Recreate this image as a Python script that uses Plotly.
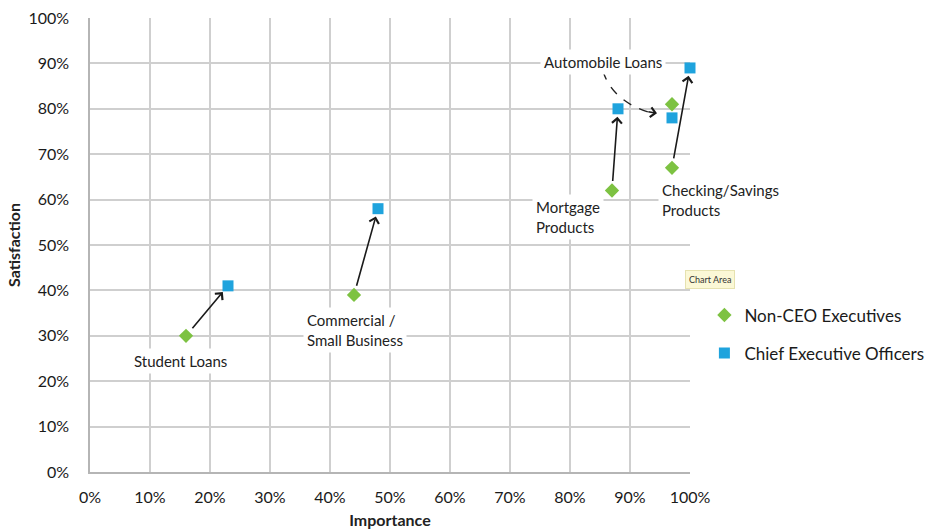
import plotly.graph_objects as go

categories = ["Student Loans", "Commercial / Small Business", "Mortgage Products",
              "Automobile Loans", "Checking/Savings Products"]
noceo_importance = [0.16, 0.44, 0.87, 0.97, 0.97]
noceo_satisfaction = [0.30, 0.39, 0.62, 0.81, 0.67]
ceo_importance = [0.23, 0.48, 0.88, 0.97, 1.00]
ceo_satisfaction = [0.41, 0.58, 0.80, 0.78, 0.89]

label_text = ["Student Loans", "Commercial /<br>Small Business", "Mortgage<br>Products",
              "Automobile Loans", "Checking/Savings<br>Products"]
label_x = [0.15, 0.355, 0.736, 0.855, 0.946]
label_y = [0.245, 0.312, 0.562, 0.903, 0.60]
label_anchor = ["center", "left", "left", "center", "left"]

tick_vals = [i / 10 for i in range(11)]
tick_text = [f"{i*10}%" for i in range(11)]

GREEN = "#7dc242"
BLUE = "#1fa3dd"
FONT = "Lato"

fig = go.Figure()
fig.add_trace(go.Scatter(
    x=noceo_importance, y=noceo_satisfaction, mode="markers", name="Non-CEO Executives",
    marker=dict(symbol="diamond", size=11, color=GREEN), legendgroup="a", cliponaxis=False))
fig.add_trace(go.Scatter(
    x=ceo_importance, y=ceo_satisfaction, mode="markers", name="Chief Executive Officers",
    marker=dict(symbol="square", size=11, color=BLUE), legendgroup="b", cliponaxis=False))

annotations = []
# arrows from non-CEO to CEO (automobile loans uses a dashed pointer instead)
for i, cat in enumerate(categories):
    if cat == "Automobile Loans":
        continue
    annotations.append(dict(
        x=ceo_importance[i], y=ceo_satisfaction[i], xref="x", yref="y",
        ax=noceo_importance[i], ay=noceo_satisfaction[i], axref="x", ayref="y",
        text="", showarrow=True, arrowhead=4, arrowsize=1.2, arrowwidth=1.6,
        arrowcolor="#1a1a1a", standoff=8, startstandoff=8))

# dashed curved pointer for Automobile Loans (drawn before labels so label covers its start)
ai = categories.index("Automobile Loans")
sx, sy = label_x[ai], label_y[ai] - 0.02
ex, ey = ceo_importance[ai] - 0.04, ceo_satisfaction[ai] + 0.013
cx, cy = sx + 0.015, ey + 0.026
fig.add_shape(type="path", xref="x", yref="y",
              path=f"M {sx},{sy} Q {cx},{cy} {ex},{ey}",
              line=dict(color="#222", width=1.4, dash="dash"))
annotations.append(dict(
    x=ex + 0.015, y=ey - 0.003, xref="x", yref="y",
    ax=ex - 0.002, ay=ey + 0.001, axref="x", ayref="y",
    text="", showarrow=True, arrowhead=4, arrowsize=1.2, arrowwidth=1.6, arrowcolor="#1a1a1a"))

for i, t in enumerate(label_text):
    annotations.append(dict(
        x=label_x[i], y=label_y[i], xref="x", yref="y", text=t, showarrow=False,
        xanchor=label_anchor[i], yanchor="middle", align="left",
        font=dict(family=FONT, size=15, color="#222"), bgcolor="white", borderpad=3))

# "Chart Area" tooltip
annotations.append(dict(
    x=0.992, y=0.424, xref="paper", yref="paper", text="Chart Area", showarrow=False,
    xanchor="left", yanchor="middle", font=dict(family=FONT, size=9, color="#333"),
    bgcolor="#fbf8d6", bordercolor="#e6e2b0", borderwidth=1, borderpad=3))

fig.update_layout(
    width=941, height=529,
    margin=dict(l=90, r=251, t=18, b=57, autoexpand=False),
    paper_bgcolor="white", plot_bgcolor="white",
    font=dict(family=FONT, size=15, color="#222"),
    showlegend=True,
    legend=dict(x=1.024, y=0.303, xanchor="left", yanchor="middle",
                font=dict(family=FONT, size=17, color="#1a1a1a"),
                tracegroupgap=13, traceorder="grouped", bgcolor="rgba(0,0,0,0)"),
    annotations=annotations,
)
fig.update_xaxes(range=[0, 1], tickvals=tick_vals, ticktext=tick_text,
                 showgrid=True, gridcolor="#cfcfcf", gridwidth=1.5,
                 showline=True, linecolor="#b5b5b5", linewidth=1.5,
                 zeroline=False, ticks="", ticklabelstandoff=10, automargin=False,
                 title=dict(text="<b>Importance</b>", font=dict(family=FONT, size=16), standoff=10),
                 tickfont=dict(family=FONT, size=16, color="#1a1a1a"), fixedrange=True)
fig.update_yaxes(range=[0, 1], tickvals=tick_vals, ticktext=tick_text,
                 showgrid=True, gridcolor="#cfcfcf", gridwidth=1.5,
                 showline=True, linecolor="#b5b5b5", linewidth=1.5,
                 zeroline=False, ticks="", ticklabelstandoff=16, automargin=False,
                 title=dict(text="<b>Satisfaction</b>", font=dict(family=FONT, size=16), standoff=4),
                 tickfont=dict(family=FONT, size=16, color="#1a1a1a"), fixedrange=True)

fig.write_html("out.html")
